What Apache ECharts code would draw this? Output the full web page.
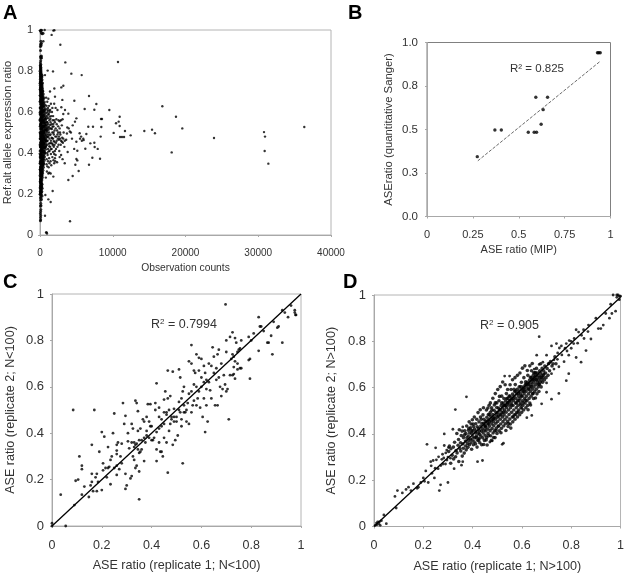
<!DOCTYPE html>
<html><head><meta charset="utf-8">
<style>html,body{margin:0;padding:0;background:#fff}#c{width:627px;height:576px}</style>
<script src="https://cdn.jsdelivr.net/npm/echarts@6/dist/echarts.min.js"></script>
</head><body><div id="c"></div>
<script>
const aXTicks=['0','10000','20000','30000','40000'];
const aYTicks=['0','0.2','0.4','0.6','0.8','1'];
const bXTicks=['0','0.25','0.5','0.75','1'];
const bYTicks=['0.0','0.3','0.5','0.8','1.0'];
const cdTicks=['0','0.2','0.4','0.6','0.8','1'];
const aOuter=[[36330,.527],[31390,.348],[30930,.48],[30790,.502],[30880,.41],[23920,.473],[19560,.52],[18690,.577],[18100,.403],[16815,.628],[15800,.496],[15400,.514],[14340,.507],[12460,.486],[11680,.507],[11550,.478],[11270,.478],[11000,.478],[10950,.577],[10810,.553],[10950,.532],[10450,.545],[10125,.498],[10720,.844],[9530,.61],[8385,.566],[8520,.566],[8430,.527],[8340,.48],[8250,.372],[7745,.639],[7470,.611],[6735,.678],[6640,.528],[7285,.528],[6920,.447],[7470,.45],[7515,.429],[7930,.42],[7195,.377],[6735,.343],[6140,.615],[6370,.493],[6230,.421],[6000,.463],[5730,.78],[5450,.496],[5500,.47],[5000,.569],[4810,.553],[5130,.411],[5000,.455],[5315,.312],[5000,.371],[5130,.364],[4860,.343],[4490,.288],[3895,.268],[4125,.067],[4307,.787],[4720,.655],[3480,.842],[2795,.928],[3207,.728],[2932,.72],[3070,.659],[3436,.61],[3895,.592],[2932,.623],[3200,.59],[3100,.565],[2880,.56],[2700,.555],[3000,.535],[3750,.525],[3950,.52],[4500,.535],[4250,.5],[4100,.505],[3700,.495],[4400,.47],[5950,.47],[5750,.46],[5650,.48],[3400,.35],[4700,.42],[3800,.405],[3350,.43],[3100,.37],[2900,.39],[2650,.41],[2700,.38],[2550,.44],[2350,.355],[2100,.36],[1950,.35],[2050,.375],[2150,.39],[2300,.46],[2450,.47],[2600,.465],[2750,.47],[2900,.46],[3050,.475],[3150,.45],[3250,.5],[2500,.5],[2350,.51],[2150,.52],[2050,.55],[2250,.565],[2400,.61],[2150,.62],[2550,.56],[1950,.56],[1800,.58],[1650,.6],[1950,.64],[1832,.997],[1970,.999],[1600,.976],[640,1],[458,.945],[1053,.802],[1787,.798],[1970,.715],[2060,.675],[1374,.7],[687,.78],[916,.013],[962,.007],[830,.012],[687,.094],[1741,.215],[1145,.174],[1466,.161],[1466,.3],[1283,.304],[1832,.285],[800,.28],[733,.195]];
const aFan=[[1100,.62],[1250,.63],[1400,.61],[1500,.64],[1700,.62],[1050,.6],[1200,.59],[1350,.6],[1550,.58],[1750,.56],[1100,.57],[1300,.56],[1450,.55],[1600,.54],[1850,.53],[2000,.51],[1150,.54],[1350,.52],[1500,.52],[1700,.5],[1900,.49],[2100,.48],[1050,.52],[1250,.5],[1450,.49],[1600,.475],[1800,.47],[2000,.455],[1100,.49],[1300,.47],[1500,.46],[1700,.445],[1900,.43],[2050,.41],[1050,.46],[1200,.445],[1400,.43],[1600,.42],[1800,.405],[1950,.395],[1100,.42],[1300,.41],[1500,.395],[1700,.38],[1850,.365],[1050,.39],[1250,.375],[1450,.36],[1100,.36],[1300,.35],[1550,.34],[1000,.335],[1200,.33],[950,.31],[1150,.3],[900,.345],[900,.37],[1000,.4],[950,.44],[1000,.48],[950,.51],[1000,.55],[950,.58],[1020,.61],[900,.63],[1000,.65],[850,.67],[1150,.665],[2500,.53],[2700,.52],[2800,.49],[2600,.48],[2400,.49],[2250,.48],[2200,.45],[2400,.43],[2200,.42],[2000,.44],[1850,.5],[2300,.54],[3600,.465],[3400,.46],[3200,.47],[3000,.455],[2850,.44],[2750,.5],[1180,.513],[1320,.487],[1420,.537],[1240,.528],[1140,.478],[1380,.448],[1270,.433],[1170,.408],[1430,.567],[1330,.578],[1230,.608],[1130,.588],[1480,.418],[1620,.517],[1560,.448],[1720,.528],[1680,.472],[1780,.438],[1880,.458],[1830,.542]];
const aColumn=[[60,.07],[90,.075],[70,.085],[100,.095],[60,.105],[90,.115],[110,.125],[80,.14],[120,.145],[100,.155],[90,.17],[200,.175],[60,.18],[130,.185],[280,.19],[70,.195],[170,.198],[60,.205],[140,.208],[250,.212],[90,.216],[180,.22],[50,.224],[300,.228],[120,.232],[220,.236],[60,.24],[160,.244],[280,.248],[90,.252],[200,.256],[50,.26],[130,.264],[260,.268],[80,.272],[190,.276],[320,.28],[60,.284],[150,.288],[240,.292],[90,.296],[350,.3],[50,.304],[180,.307],[280,.31],[110,.313],[400,.316],[60,.319],[220,.322],[330,.325],[140,.328],[470,.331],[70,.334],[260,.337],[380,.34],[170,.343],[520,.346],[90,.349],[300,.352],[430,.355],[50,.358],[200,.361],[580,.364],[120,.367],[350,.37],[480,.373],[70,.376],[240,.379],[620,.382],[150,.385],[400,.388],[530,.391],[60,.394],[280,.397],[700,.4],[180,.403],[450,.406],[590,.409],[90,.412],[330,.415],[760,.418],[210,.421],[500,.424],[650,.427],[50,.43],[370,.433],[820,.436],[140,.439],[270,.442],[560,.445],[720,.448],[70,.451],[420,.454],[880,.457],[190,.46],[310,.463],[620,.466],[790,.469],[100,.472],[470,.475],[930,.478],[240,.481],[360,.484],[680,.487],[840,.49],[50,.493],[130,.496],[530,.499],[980,.502],[280,.505],[410,.508],[730,.511],[880,.514],[80,.517],[170,.52],[590,.523],[1000,.526],[320,.529],[460,.532],[760,.535],[900,.538],[60,.541],[210,.544],[630,.547],[950,.55],[120,.553],[360,.556],[510,.559],[770,.562],[40,.565],[260,.568],[860,.571],[600,.574],[160,.577],[400,.58],[700,.583],[80,.586],[310,.589],[520,.592],[820,.595],[200,.598],[50,.601],[440,.604],[640,.607],[120,.61],[340,.613],[760,.616],[240,.619],[60,.622],[540,.625],[400,.628],[160,.631],[680,.634],[290,.637],[90,.64],[480,.643],[200,.646],[600,.649],[50,.652],[350,.655],[130,.658],[440,.661],[240,.664],[70,.667],[540,.67],[300,.673],[160,.676],[380,.679],[60,.682],[230,.685],[450,.688],[110,.691],[320,.694],[50,.697],[190,.7],[390,.703],[90,.706],[270,.709],[140,.712],[340,.715],[60,.718],[210,.721],[110,.724],[300,.727],[50,.73],[170,.733],[250,.736],[80,.739],[340,.742],[130,.745],[50,.748],[210,.751],[100,.754],[280,.757],[60,.76],[160,.763],[90,.766],[230,.769],[50,.772],[130,.775],[300,.778],[80,.781],[180,.784],[50,.788],[110,.792],[70,.796],[150,.8],[50,.804],[100,.808],[70,.812],[130,.816],[50,.82],[90,.824],[60,.828],[110,.832],[60,.84],[180,.865],[120,.868],[90,.871],[200,.873],[140,.862],[100,.85],[70,.9],[60,.92],[150,.925],[90,.93],[200,.935],[120,.945],[60,.995],[180,.985],[300,.982],[420,.984],[90,.999],[220,.999],
[30,.2],[20,.23],[30,.26],[15,.29],[25,.32],[10,.35],[30,.38],[20,.41],[10,.44],[25,.47],[15,.5],[30,.53],[10,.56],[20,.59],[30,.62],[15,.65],[25,.68],[20,.71],[10,.74],[250,.47],[150,.5],[300,.52],[220,.55],[130,.45],[360,.41],[120,.38],[220,.35],[150,.57],[100,.6],[240,.6],[170,.42],[90,.44],[320,.49],[70,.53],[190,.51],[280,.43],[100,.48],[230,.46],[430,.49],[380,.53],[490,.45],[440,.56],[530,.51],[570,.48],[610,.54],[660,.5],[700,.46],[710,.55],[800,.52],[850,.46],[780,.43],[520,.41],[450,.38],[640,.4],[280,.36],[90,.33],[200,.3],[130,.27],[80,.25],[170,.23],[110,.21]];
const aColumn2=[[120,.202],[60,.214],[170,.226],[90,.238],[210,.25],[130,.262],[70,.274],[230,.286],[150,.298],[300,.306],[90,.314],[240,.323],[180,.332],[350,.341],[110,.35],[260,.359],[400,.368],[190,.377],[320,.386],[130,.395],[460,.404],[240,.413],[380,.422],[120,.431],[530,.44],[290,.449],[180,.458],[420,.467],[600,.476],[90,.485],[330,.494],[480,.503],[650,.512],[210,.521],[400,.53],[120,.539],[540,.548],[300,.557],[700,.566],[180,.575],[450,.584],[100,.593],[350,.602],[580,.611],[220,.62],[460,.629],[130,.638],[320,.647],[240,.656],[400,.665],[120,.674],[270,.683],[170,.692],[350,.701],[90,.71],[220,.719],[130,.728],[260,.737],[80,.746],[170,.755],[120,.764],[200,.773],[70,.782],[140,.79],[350,.44],[550,.47],[460,.5],[650,.53],[300,.41],[430,.57],[250,.58],[550,.6],[150,.4],[380,.45],[230,.52],[600,.43],[100,.36],[320,.34],[460,.35],[200,.33],[130,.31],[260,.29],[90,.27],[200,.24],[150,.21],[380,.5],[160,.48],[270,.47],[460,.46],[510,.53],[120,.5],[330,.55],[240,.5],[70,.47],[170,.54],[90,.56],[70,.43],[190,.44],[70,.39],[150,.35],[50,.32],[60,.62],[310,.61],[170,.6],[420,.64],[80,.66],[260,.63],[320,.67],[170,.7],[80,.72]];
const bPoints=[[.274,.344],[.37,.497],[.405,.497],[.552,.484],[.584,.484],[.597,.484],[.622,.53],[.633,.614],[.593,.685],[.657,.685],[.929,.941],[.936,.941],[.944,.941]];
const bTrend=[[.277,.32],[.945,.893]];
const cPoints=[[.085,.5],[.17,.5],[.035,.135],[.055,0],[0,.012],[0,0],[.09,.09],[.095,.195],[.105,.2],[.11,.3],[.12,.26],[.12,.245],[.12,.135],[.13,.17],[.148,.125],[.155,.175],[.16,.19],[.16,.225],[.16,.35],[.165,.15],[.175,.21],[.18,.15],[.18,.225],[.185,.19],[.19,.32],[.2,.155],[.2,.405],[.205,.27],[.205,.24],[.21,.385],[.215,.25],[.22,.21],[.225,.34],[.225,.25],[.23,.255],[.235,.285],[.235,.18],[.24,.3],[.245,.4],[.25,.485],[.25,.25],[.26,.325],[.26,.31],[.26,.26],[.26,.22],[.265,.36],[.27,.245],[.275,.3],[.28,.355],[.285,.53],[.29,.44],[.295,.475],[.295,.225],[.295,.16],[.3,.175],[.305,.4],[.305,.365],[.31,.335],[.315,.205],[.32,.44],[.32,.215],[.325,.42],[.325,.3],[.33,.36],[.33,.285],[.335,.54],[.335,.35],[.335,.25],[.34,.53],[.34,.355],[.34,.26],[.345,.495],[.345,.41],[.345,.33],[.35,.115],[.35,.315],[.35,.235],[.355,.32],[.355,.42],[.36,.37],[.365,.46],[.37,.28],[.37,.45],[.375,.36],[.38,.47],[.38,.39],[.385,.525],[.39,.38],[.395,.43],[.395,.525],[.4,.43],[.405,.37],[.41,.38],[.415,.5],[.415,.53],[.42,.33],[.42,.405],[.42,.615],[.42,.28],[.43,.42],[.43,.51],[.435,.32],[.44,.32],[.44,.46],[.445,.3],[.45,.545],[.45,.49],[.45,.38],[.455,.58],[.46,.48],[.46,.36],[.465,.67],[.465,.55],[.465,.23],[.47,.5],[.475,.44],[.475,.56],[.48,.46],[.485,.35],[.485,.665],[.49,.45],[.49,.505],[.495,.37],[.5,.47],[.5,.45],[.505,.39],[.51,.675],[.51,.535],[.515,.64],[.515,.49],[.52,.46],[.52,.43],[.525,.27],[.525,.58],[.53,.6],[.53,.49],[.535,.49],[.54,.45],[.545,.53],[.55,.57],[.55,.71],[.55,.44],[.56,.78],[.56,.7],[.56,.49],[.565,.52],[.57,.67],[.57,.61],[.575,.66],[.58,.6],[.58,.74],[.585,.55],[.59,.725],[.59,.67],[.595,.51],[.6,.72],[.6,.64],[.6,.6],[.605,.47],[.61,.55],[.615,.405],[.615,.66],[.62,.63],[.62,.52],[.625,.45],[.63,.7],[.63,.62],[.635,.585],[.64,.55],[.645,.77],[.65,.73],[.65,.66],[.655,.52],[.66,.63],[.665,.74],[.665,.52],[.67,.76],[.67,.64],[.675,.6],[.68,.56],[.685,.59],[.69,.65],[.695,.61],[.697,.955],[.7,.8],[.7,.75],[.7,.58],[.705,.59],[.71,.46],[.715,.65],[.715,.815],[.72,.72],[.725,.835],[.725,.74],[.725,.65],[.73,.685],[.73,.655],[.73,.73],[.735,.81],[.735,.71],[.735,.635],[.74,.79],[.745,.7],[.745,.75],[.745,.675],[.75,.76],[.755,.765],[.755,.68],[.76,.8],[.76,.68],[.79,.815],[.79,.715],[.795,.72],[.795,.635],[.8,.8],[.81,.83],[.83,.9],[.83,.755],[.835,.86],[.84,.86],[.85,.84],[.865,.79],[.87,.79],[.88,.82],[.885,.74],[.89,.88],[.905,.855],[.91,.86],[.925,.93],[.925,.79],[.935,.92],[.948,.9],[.96,.95],[.975,.93],[.975,.92],[.978,.91],[.98,.91],[.44,.43],[.47,.41],[.38,.41],[.36,.33],[.4,.37],[.45,.44],[.49,.47],[.53,.52],[.57,.54],[.61,.62],[.58,.52],[.51,.5],[.43,.47],[.37,.38],[.32,.36],[.28,.27],[.26,.35],[.39,.45],[.46,.49],[.54,.5],[.59,.58],[.62,.59],[.66,.68],[.68,.7],[.64,.69],[.61,.69],[.56,.58],[.52,.55],[.48,.47],[.43,.36],[.35,.37],[.33,.34]];
const cLine=[[0,0],[1,1]];
const dOuter=[[.005,.005],[.01,.015],[.012,.008],[.015,.02],[.02,.012],[.022,.02],[.025,.005],[.03,.025],[.04,.05],[.05,.012],[.085,.13],[.095,.155],[.09,.08],[.115,.145],[.13,.16],[.14,.17],[.15,.155],[.16,.185],[.175,.165],[.18,.17],[.19,.19],[.2,.21],[.205,.195],[.21,.24],[.215,.355],[.22,.19],[.23,.28],[.235,.23],[.24,.285],[.245,.21],[.25,.34],[.26,.25],[.265,.155],[.27,.18],[.275,.29],[.28,.27],[.285,.35],[.29,.27],[.3,.19],[.295,.33],[.31,.295],[.325,.25],[.32,.42],[.3,.3],[.285,.4],[.33,.505],[.375,.56],[.36,.43],[.36,.28],[.355,.265],[.42,.28],[.44,.285],[.47,.365],[.48,.37],[.52,.355],[.525,.36],[.53,.65],[.55,.65],[.62,.47],[.64,.48],[.6,.51],[.67,.82],[.68,.53],[.72,.55],[.75,.575],[.74,.79],[.72,.78],[.78,.63],[.79,.66],[.82,.73],[.84,.71],[.86,.76],[.88,.81],[.9,.9],[.91,.855],[.92,.855],[.93,.87],[.94,.92],[.955,.9],[.96,.96],[.965,.92],[.97,1],[.98,.93],[.985,.99],[.99,1],[.995,.98],[1,.995],[.985,1],[.995,.995],[.8,.8],[.82,.85],[.85,.85],[.83,.84],[.87,.87],[.78,.79],[.76,.78],[.745,.75],[.73,.72],[.71,.705],[.7,.74],[.685,.71],[.67,.7],[.66,.74],[.65,.68],[.775,.77],[.79,.74],[.81,.79],[.8,.77],[.75,.69],[.73,.68],[.7,.62],[.72,.66],[.69,.66],[.7,.58],[.232,.262],[.248,.252],[.253,.288],[.262,.301],[.271,.263],[.278,.312],[.283,.296],[.291,.318],[.296,.287],[.302,.341],[.744,.722],[.752,.771],[.762,.741],[.771,.712],[.783,.758],[.792,.803],[.812,.812],[.826,.792],[.842,.826],[.852,.812],[.868,.842]];
const dBand=[[.303,.324],[.306,.347],[.311,.273],[.312,.336],[.317,.308],[.322,.343],[.323,.292],[.327,.364],[.331,.301],[.333,.328],[.336,.402],[.337,.318],[.341,.351],[.343,.376],[.344,.281],[.346,.418],[.348,.337],[.351,.362],[.352,.326],[.354,.393],[.357,.412],[.358,.304],[.361,.357],[.362,.338],[.363,.384],[.366,.317],[.367,.396],[.368,.413],[.371,.369],[.372,.348],[.373,.402],[.374,.331],[.376,.434],[.377,.383],[.379,.359],[.381,.342],[.382,.391],[.383,.416],[.384,.372],[.386,.452],[.387,.353],[.388,.404],[.391,.378],[.392,.426],[.393,.362],[.394,.443],[.396,.334],[.397,.401],[.398,.374],[.399,.461],[.401,.413],[.402,.388],[.403,.353],[.404,.432],[.406,.366],[.407,.473],[.408,.421],[.409,.382],[.411,.404],[.412,.357],[.413,.444],[.414,.412],[.416,.391],[.417,.463],[.418,.343],[.419,.431],[.421,.372],[.422,.492],[.423,.403],[.424,.423],[.426,.452],[.427,.381],[.428,.398],[.429,.362],[.431,.504],[.432,.473],[.433,.434],[.434,.391],[.436,.412],[.437,.353],[.438,.446],[.439,.424],[.441,.383],[.442,.482],[.443,.404],[.444,.513],[.446,.463],[.447,.416],[.448,.372],[.449,.436],[.451,.394],[.452,.454],[.453,.428],[.454,.413],[.456,.503],[.457,.384],[.458,.472],[.459,.352],[.461,.443],[.462,.421],[.463,.402],[.464,.484],[.466,.462],[.467,.524],[.468,.433],[.469,.452],[.471,.414],[.472,.493],[.473,.392],[.474,.474],[.476,.372],[.477,.513],[.478,.443],[.479,.423],[.481,.463],[.482,.484],[.483,.404],[.484,.454],[.486,.435],[.487,.502],[.488,.473],[.489,.413],[.491,.384],[.492,.534],[.493,.464],[.494,.446],[.496,.424],[.497,.483],[.498,.514],[.499,.402],[.501,.472],[.502,.454],[.503,.492],[.504,.433],[.506,.512],[.507,.543],[.508,.413],[.509,.562],[.511,.483],[.512,.463],[.513,.503],[.514,.443],[.516,.523],[.517,.424],[.518,.563],[.519,.492],[.521,.473],[.522,.512],[.523,.453],[.524,.533],[.526,.434],[.527,.553],[.528,.482],[.529,.503],[.531,.463],[.532,.522],[.533,.444],[.534,.542],[.536,.494],[.537,.574],[.538,.513],[.539,.473],[.541,.533],[.542,.454],[.543,.553],[.544,.432],[.546,.503],[.547,.524],[.548,.484],[.549,.543],[.551,.464],[.552,.563],[.553,.443],[.554,.513],[.556,.592],[.557,.533],[.558,.493],[.559,.553],[.561,.473],[.562,.572],[.563,.452],[.564,.523],[.566,.543],[.567,.503],[.568,.563],[.569,.483],[.571,.583],[.572,.463],[.573,.613],[.574,.533],[.576,.553],[.577,.513],[.578,.573],[.579,.493],[.581,.593],[.582,.473],[.583,.543],[.584,.523],[.586,.563],[.587,.503],[.588,.583],[.589,.603],[.591,.483],[.592,.553],[.593,.533],[.594,.573],[.596,.513],[.597,.593],[.598,.623],[.599,.493],[.601,.563],[.602,.543],[.603,.583],[.604,.523],[.606,.603],[.607,.503],[.608,.643],[.609,.573],[.611,.553],[.612,.593],[.613,.533],[.614,.613],[.616,.513],[.617,.583],[.618,.563],[.619,.603],[.621,.543],[.622,.623],[.623,.523],[.624,.653],[.626,.593],[.627,.573],[.628,.613],[.629,.553],[.631,.633],[.632,.533],[.633,.603],[.634,.583],[.636,.623],[.637,.563],[.638,.643],[.639,.673],[.641,.613],[.642,.593],[.643,.633],[.644,.573],[.646,.653],[.647,.553],[.648,.623],[.649,.603],[.651,.643],[.652,.583],[.653,.663],[.654,.633],[.656,.613],[.657,.653],[.658,.593],[.659,.683],[.661,.573],[.662,.643],[.663,.623],[.664,.663],[.666,.603],[.667,.633],[.668,.653],[.669,.583],[.671,.613],[.672,.673],[.673,.643],[.674,.623],[.676,.703],[.677,.663],[.678,.603],[.679,.633],[.681,.653],[.682,.683],[.684,.623],[.686,.643],[.688,.673],[.691,.633],[.693,.693],[.696,.663],[.698,.643],[.702,.683],[.706,.653],[.708,.703],[.712,.673],[.716,.713],[.722,.693],[.726,.703],[.734,.733],[.738,.703],
[.402,.443],[.428,.413],[.435,.463],[.452,.433],[.465,.444],[.475,.456],[.485,.466],[.495,.493],[.505,.476],[.515,.483],[.525,.494],[.535,.523],[.545,.535],[.555,.546],[.565,.553],[.575,.585],[.585,.575],[.595,.605],[.605,.595],[.615,.625],[.625,.615],[.635,.645],[.645,.635],[.655,.665],[.445,.445],[.458,.455],[.468,.483],[.478,.502],[.488,.525],[.498,.534],[.508,.503],[.518,.534],[.528,.524],[.538,.553],[.548,.563],[.558,.524],[.568,.593],[.578,.534],[.588,.544],[.598,.564],[.608,.584],[.618,.614],[.628,.594],[.638,.604],[.648,.664],[.658,.634],[.668,.614],[.678,.644],[.688,.654],[.462,.512],[.472,.534],[.482,.554],[.492,.574],[.502,.592],[.512,.604],[.522,.624],[.532,.612],[.542,.592],[.552,.612],[.562,.634],[.572,.643],[.582,.653],[.592,.663],[.602,.684],[.612,.694],[.622,.674],[.632,.694],[.642,.704],[.385,.424],[.395,.414],[.415,.384],[.425,.374],[.445,.354],[.455,.374],[.465,.392],[.485,.384],[.495,.414],[.505,.434],[.515,.405],[.535,.415],[.545,.445],[.555,.425],[.565,.474],[.575,.484],[.585,.494],[.595,.525],[.605,.534],[.615,.545],[.625,.504],[.635,.525],[.645,.575],[.655,.555]];
const dLine=[[0,0],[1,.99]];

const font='"Liberation Sans",Arial,sans-serif';
const txt='#333';
function axis(i,ticks,max,interval,name,nameGap,fontSize,nameSize,margin){
  return {type:'value',gridIndex:i,min:0,max:max,interval:interval,name:name,nameLocation:'middle',nameGap:nameGap,
    nameTextStyle:{color:txt,fontSize:nameSize,fontFamily:font},
    splitLine:{show:false},
    axisLine:{show:true,onZero:false,lineStyle:{color:'#a8a8a8',width:1}},
    axisTick:{show:true,length:2,inside:false,lineStyle:{color:'#a8a8a8'}},
    axisLabel:{color:txt,fontSize:fontSize,fontFamily:font,margin:margin,hideOverlap:false,showMinLabel:true,showMaxLabel:true,
      formatter:function(v,idx){return ticks[Math.round(v/interval)];}}};
}
function grid(l,t,r,b,color){return {left:l,top:t,width:r-l,height:b-t,show:true,borderColor:color,borderWidth:1,backgroundColor:'#fff'};}
function dots(i,data,size){return {type:'scatter',xAxisIndex:i,yAxisIndex:i,data:data,symbolSize:size,itemStyle:{color:'#000'},silent:true};}
function line(i,data,w,ty,color){return {type:'line',xAxisIndex:i,yAxisIndex:i,data:data,symbol:'none',lineStyle:{color:color,width:w,type:ty},silent:true,z:3};}
function letter(t,x,y){return {type:'text',x:x,y:y,style:{text:t,fill:'#000',font:'bold 20px '+font}};}
function note(t,x,y,size){return {type:'text',x:x,y:y,style:{text:t,fill:txt,font:size+'px '+font,rich:{
  a:{fontSize:size,fontFamily:font,fill:txt,color:txt},s:{fontSize:8,fontFamily:font,fill:txt,color:txt,verticalAlign:'top',lineHeight:size}}}};}

const chart=echarts.init(document.getElementById('c'),null,{renderer:'canvas'});
chart.setOption({animation:false,backgroundColor:'#fff',
  grid:[grid(40,30,331,235,'#b4b4b4'),grid(427,42.5,610.5,216.5,'#808080'),grid(52,294,301,526,'#b4b4b4'),grid(374,295,622,526.5,'#b4b4b4')],
  xAxis:[axis(0,aXTicks,40000,10000,'Observation counts',28,10,10.3,13),
         axis(1,bXTicks,1,.25,'ASE ratio (MIP)',28,11,11,13),
         axis(2,cdTicks,1,.2,'ASE ratio (replicate 1; N<100)',33,12.5,12.6,13),
         axis(3,cdTicks,1,.2,'ASE ratio (replicate 1; N>100)',34,12.5,12.6,13)],
  yAxis:[axis(0,aYTicks,1,.2,'Ref:alt allele expression ratio',20,11,11.2,7),
         axis(1,bYTicks,1,.25,'ASEratio (quantitative Sanger)',33,11.5,11.3,9),
         axis(2,cdTicks,1,.2,'ASE ratio (replicate 2; N<100)',35,13,12.6,8),
         axis(3,cdTicks,1,.2,'ASE ratio (replicate 2; N>100)',36,13,12.6,8)],
  series:[dots(0,aOuter,2.4),dots(0,aFan,2.4),dots(0,aColumn,3),dots(0,aColumn2,3),
          dots(1,bPoints,3.4),line(1,bTrend,.8,'dashed','#444'),
          dots(2,cPoints,2.8),line(2,cLine,1.3,'solid','#000'),
          dots(3,dOuter,2.8),dots(3,dBand,3.6),line(3,dLine,1.3,'solid','#000')],
  graphic:[letter('A',3,3),letter('B',348,3),letter('C',3,272),letter('D',343,272),
    note('R² = 0.825',510,63,11.5),
    note('{a|R}{s|2}{a| = 0.7994}',151,318,12.5),
    note('{a|R}{s|2}{a| = 0.905}',480,319,12.5)]
});
</script></body></html>
